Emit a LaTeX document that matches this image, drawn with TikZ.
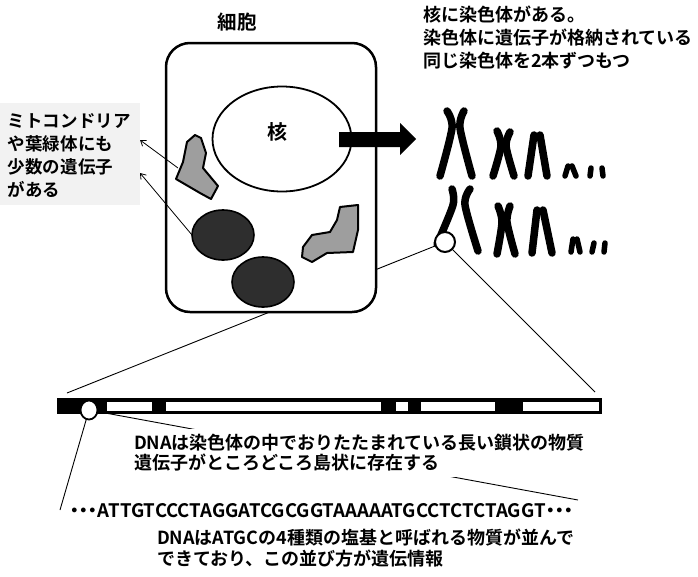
\documentclass[tikz,border=0pt]{standalone}
\usepackage{fontspec}
\setmainfont{Noto Sans CJK JP}[BoldFont=* Bold]
\newfontfamily\seqfont{Noto Sans CJK JP}[BoldFont=* Bold, RawFeature=+palt]
\usetikzlibrary{arrows.meta,shapes.geometric}
\pgfdeclarelayer{back}
\pgfsetlayers{back,main}

\begin{document}
\begin{tikzpicture}[x=1pt,y=-1pt,
  every node/.style={inner sep=0pt, outer sep=0pt},
  jtext/.style={font=\bfseries\fontsize{18}{23}\selectfont, align=left, anchor=north west},
  dtext/.style={font=\bfseries\fontsize{18}{20.5}\selectfont, align=left, anchor=north west},
  organ/.style={draw=black, line width=2pt, line join=round},
  lightorgan/.style={organ, fill=black!38},
  darkorgan/.style={ellipse, draw=black, line width=1.6pt, fill=black!82,
    minimum width=62pt, minimum height=50pt},
  chromatid/.style={line width=7.5pt, line cap=round, line join=round},
  smallchrom/.style={line width=5.5pt, line cap=round, line join=round},
  zoomline/.style={line width=0.9pt},
  pointer/.style={line width=0.8pt, -{Straight Barb[length=5pt,width=7pt]}},
  lens/.style={circle, draw=black, fill=white, line width=2pt},
]
\useasboundingbox (0,0) rectangle (698,576);
\begin{pgfonlayer}{back}
  \fill[white] (0,0) rectangle (698,576);
\end{pgfonlayer}

% speckled backdrop behind the organelle note
\fill[black!5] (0,103) rectangle (140,205);

% ---- cell ----
\node[font=\bfseries\fontsize{19.5}{22}\selectfont] (title) at (237,22) {細胞};
\draw[line width=2.5pt, fill=white, rounded corners=24pt] (166,43) rectangle (376,312);
\node[ellipse, draw=black, line width=1.8pt, minimum width=139pt, minimum height=105pt] (nucleus) at (282,139) {};
\node[font=\bfseries\fontsize{20}{22}\selectfont] (nucLabel) at (277,132) {核};

% organelles
\draw[lightorgan] (187,142) -- (195,135) -- (201,138) -- (206,153) -- (203,168)
  -- (218,186) -- (211,199) -- (200,193) -- (176,179) -- (183,162) -- cycle;
\coordinate (orgA) at (178,168);
\draw[lightorgan] (340,207) -- (358,205) -- (358,230) -- (353,252) -- (327,253)
  -- (312,262) -- (302,257) -- (303,247) -- (312,235) -- (330,232) -- (337,220) -- cycle;
\node[darkorgan] (orgB) at (223,235) {};
\node[darkorgan] (orgC) at (263,282) {};

% big arrow from the nucleus to the chromosomes
\fill[black] (339,132) -- (400,132) -- (400,123) -- (416,139) -- (400,155) -- (400,147) -- (339,147) -- cycle;

% ---- chromosomes, first set ----
\draw[chromatid] plot[smooth] coordinates {(447,111) (452,128) (440,176)};
\draw[chromatid] plot[smooth] coordinates {(464,111) (460,128) (472,176)};
\draw[chromatid] plot[smooth] coordinates {(497,131) (501,146) (493,176)};
\draw[chromatid] plot[smooth] coordinates {(510,132) (506,146) (514,176)};
\draw[chromatid] (534,135) -- (528,176);
\draw[chromatid] (540,135) -- (547,176);
\draw[smallchrom] (568,166) -- (565,176);
\draw[smallchrom] (572,166) -- (576,176);
\draw[smallchrom] (591,168) -- (590,176);
\draw[smallchrom] (602,168) -- (603,176);

% ---- chromosomes, second set ----
\draw[chromatid] plot[smooth] coordinates {(452,189) (453,205) (437,244)};
\draw[chromatid] plot[smooth] coordinates {(470,189) (465,205) (478,251)};
\draw[chromatid] plot[smooth] coordinates {(498,206) (502,222) (497,254)};
\draw[chromatid] plot[smooth] coordinates {(510,206) (507,222) (515,254)};
\draw[chromatid] (537,210) -- (532,253);
\draw[chromatid] (543,210) -- (552,253);
\draw[smallchrom] (573,239) -- (571,252);
\draw[smallchrom] (577,239) -- (580,252);
\draw[smallchrom] (594,243) -- (592,252);
\draw[smallchrom] (605,243) -- (604,252);

\node[lens, minimum size=20pt] (lensA) at (445,242) {};

% ---- DNA strand ----
\fill[black] (57,398) rectangle (602,414);
\foreach \a/\b in {107/152, 166/381, 396/408, 421/495, 523/599}
  \fill[white] (\a,401.5) rectangle (\b,410.5);
\node[lens, line width=1.8pt, minimum width=17pt, minimum height=19pt, ellipse] (lensB) at (89,410) {};

\coordinate (barL) at (67,393);
\coordinate (barR) at (595,392);
\coordinate (seqL) at (60,510);
\coordinate (seqR) at (578,500);

\begin{pgfonlayer}{back}
  \draw[zoomline] (lensA) -- (barL);
  \draw[zoomline] (lensA) -- (barR);
  \draw[zoomline] (lensB) -- (seqL);
  \draw[zoomline] (lensB) -- (seqR);
\end{pgfonlayer}

% ---- texts ----
\node[jtext] (noteTop) at (423,6) {核に染色体がある。\\染色体に遺伝子が格納されている\\同じ染色体を2本ずつもつ};
\node[jtext, font=\bfseries\fontsize{17.5}{23}\selectfont] (noteOrg) at (8,114) {ミトコンドリア\\や葉緑体にも\\少数の遺伝子\\がある};

\coordinate (tipA) at (140,140);
\coordinate (tipB) at (140,173);
\draw[pointer] (orgA) -- (tipA);
\draw[pointer] (orgB.west) -- (tipB);

\node[dtext, fill=white, inner sep=5pt] (noteDNA) at (129,429) {DNAは染色体の中でおりたたまれている長い鎖状の物質\\遺伝子がところどころ島状に存在する};
\node[font=\seqfont\bfseries\fontsize{18.6}{20}\selectfont, anchor=west] (seq) at (70,511) {・・・ATTGTCCCTAGGATCGCGGTAAAAATGCCTCTCTAGGT・・・};
\node[dtext] (noteBase) at (157,529) {DNAはATGCの4種類の塩基と呼ばれる物質が並んで\\できており、この並び方が遺伝情報};
\end{tikzpicture}
\end{document}
